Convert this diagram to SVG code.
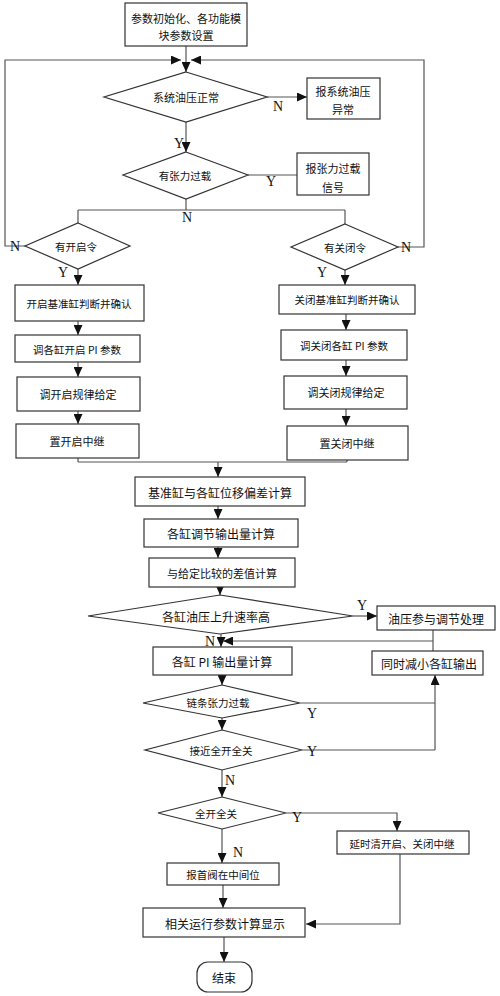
<svg xmlns="http://www.w3.org/2000/svg" width="500" height="996" viewBox="0 0 500 996">
<defs>
<marker id="ah" markerWidth="10" markerHeight="9" viewBox="0 0 10 9" refX="10" refY="4.5" orient="auto" markerUnits="userSpaceOnUse">
<path d="M0,0 L10,4.5 L0,9 Z" fill="#111"/>
</marker>
</defs>
<style>
rect,polygon{fill:#fff;stroke:#333;stroke-width:1.2}
.c{fill:none;stroke:#555;stroke-width:1.2}
.a{marker-end:url(#ah)}
text{font-family:"Noto Sans CJK SC","Noto Sans CJK JP",sans-serif;fill:#111;text-anchor:middle;dominant-baseline:central}
.s{font-size:10.5px}
.m{font-size:11px}
.l{font-size:12px}
.yn{font-family:"Liberation Serif",serif;font-size:14px;fill:#111}
</style>
<rect width="500" height="996" fill="#fff" style="stroke:none"/>
<g id="connectors">
<path class="c a" d="M186,46 V72"/>
<path class="c a" d="M25,246 H5 V60 H181"/>
<path class="c a" d="M398,247 H424 V60 H191"/>
<path class="c a" d="M267,97 H307"/>
<path class="c a" d="M186,122 V152"/>
<path class="c" d="M248,175 H297"/>
<path class="c" d="M186,199 V210 M78,210 H345 M78,210 V223 M345,210 V224"/>
<path class="c a" d="M78,269 V285"/>
<path class="c a" d="M78,321 V335"/>
<path class="c a" d="M78,362 V377"/>
<path class="c a" d="M78,411 V424"/>
<path class="c a" d="M345,270 V285"/>
<path class="c a" d="M346,314 V330"/>
<path class="c a" d="M346,360 V376"/>
<path class="c a" d="M346,409 V426"/>
<path class="c" d="M78,458 V462 M347,460 V462 M78,462 H347"/>
<path class="c a" d="M218,462 V477"/>
<path class="c a" d="M218,506 V519"/>
<path class="c a" d="M218,547 V558"/>
<path class="c a" d="M220,587 V595"/>
<path class="c a" d="M353,616 H377"/>
<path class="c a" d="M221,634 V647"/>
<path class="c" d="M433,630 V651"/>
<path class="c a" d="M433,641 H223"/>
<path class="c a" d="M222,675 V685"/>
<path class="c" d="M300,703 H435"/>
<path class="c a" d="M222,718 V730"/>
<path class="c" d="M302,750 H435"/>
<path class="c a" d="M435,750 V675"/>
<path class="c a" d="M222,770 V797"/>
<path class="c a" d="M286,813 H397 V831"/>
<path class="c a" d="M222,829 V863"/>
<path class="c a" d="M400,854 V924 H306"/>
<path class="c a" d="M223,885 V908"/>
<path class="c a" d="M224,937 V962"/>
<text class="yn" x="278" y="106">N</text>
<text class="yn" x="179" y="143">Y</text>
<text class="yn" x="271" y="181">Y</text>
<text class="yn" x="187" y="217">N</text>
<text class="yn" x="15" y="246">N</text>
<text class="yn" x="406" y="247">N</text>
<text class="yn" x="63" y="272">Y</text>
<text class="yn" x="322" y="272">Y</text>
<text class="yn" x="362" y="605">Y</text>
<text class="yn" x="210" y="641">N</text>
<text class="yn" x="312" y="713">Y</text>
<text class="yn" x="312" y="751">Y</text>
<text class="yn" x="230" y="780">N</text>
<text class="yn" x="297" y="817">Y</text>
<text class="yn" x="238" y="852">N</text>
</g>
<g id="init"><rect x="125" y="3" width="122" height="43"/><text class="m" x="186" y="18">参数初始化、各功能模</text><text class="m" x="186" y="35">块参数设置</text></g>
<g id="oil_ok"><polygon points="186,72 267,97 186,122 104,97"/><text class="m" x="186" y="97">系统油压正常</text></g>
<g id="oil_err"><rect x="307" y="78" width="73" height="41"/><text class="m" x="343" y="91">报系统油压</text><text class="m" x="343" y="109">异常</text></g>
<g id="tension"><polygon points="186,152 248,175 186,199 123,175"/><text class="s" x="185" y="175">有张力过载</text></g>
<g id="tension_sig"><rect x="297" y="153" width="72" height="42"/><text class="m" x="333" y="168">报张力过载</text><text class="m" x="333" y="187">信号</text></g>
<g id="open_cmd"><polygon points="78,223 130,246 78,269 25,246"/><text class="s" x="76" y="246">有开启令</text></g>
<g id="close_cmd"><polygon points="345,224 398,247 345,270 291,247"/><text class="s" x="345" y="247">有关闭令</text></g>
<g id="open1"><rect x="15" y="285" width="129" height="36"/><text class="s" x="79" y="303">开启基准缸判断并确认</text></g>
<g id="open2"><rect x="15" y="335" width="125" height="27"/><text class="s" x="77" y="349">调各缸开启 PI 参数</text></g>
<g id="open3"><rect x="17" y="377" width="123" height="34"/><text class="m" x="78" y="394">调开启规律给定</text></g>
<g id="open4"><rect x="16" y="424" width="123" height="34"/><text class="m" x="77" y="441">置开启中继</text></g>
<g id="close1"><rect x="279" y="285" width="136" height="29"/><text class="s" x="347" y="299">关闭基准缸判断并确认</text></g>
<g id="close2"><rect x="281" y="330" width="126" height="30"/><text class="s" x="344" y="345">调关闭各缸 PI 参数</text></g>
<g id="close3"><rect x="284" y="376" width="123" height="33"/><text class="m" x="346" y="392">调关闭规律给定</text></g>
<g id="close4"><rect x="287" y="426" width="121" height="34"/><text class="m" x="347" y="443">置关闭中继</text></g>
<g id="deviation"><rect x="135" y="477" width="170" height="29"/><text class="l" x="220" y="492">基准缸与各缸位移偏差计算</text></g>
<g id="adjust"><rect x="144" y="519" width="154" height="28"/><text class="l" x="221" y="533">各缸调节输出量计算</text></g>
<g id="diff"><rect x="149" y="558" width="146" height="29"/><text class="m" x="222" y="573">与给定比较的差值计算</text></g>
<g id="rate_high"><polygon points="220,595 353,616 220,634 88,616"/><text class="l" x="216" y="616">各缸油压上升速率高</text></g>
<g id="oil_proc"><rect x="377" y="606" width="118" height="24"/><text class="l" x="436" y="618">油压参与调节处理</text></g>
<g id="pi_out"><rect x="153" y="647" width="139" height="28"/><text class="l" x="222" y="661">各缸 PI 输出量计算</text></g>
<g id="reduce"><rect x="372" y="651" width="111" height="24"/><text class="l" x="429" y="663">同时减小各缸输出</text></g>
<g id="chain"><polygon points="222,685 300,703 222,718 143,703"/><text class="s" x="218" y="702">链条张力过载</text></g>
<g id="near_full"><polygon points="222,730 302,750 222,770 145,750"/><text class="s" x="221" y="750">接近全开全关</text></g>
<g id="full"><polygon points="222,797 286,813 222,829 158,813"/><text class="s" x="216" y="813">全开全关</text></g>
<g id="delay_clear"><rect x="337" y="831" width="132" height="23"/><text class="s" x="402" y="843">延时清开启、关闭中继</text></g>
<g id="mid_pos"><rect x="167" y="863" width="112" height="22"/><text class="s" x="223" y="874">报首阀在中间位</text></g>
<g id="display"><rect x="143" y="908" width="162" height="29"/><text class="l" x="225" y="923">相关运行参数计算显示</text></g>
<g id="end"><rect x="197" y="962" width="55" height="30" rx="11"/><text class="l" x="224" y="977">结束</text></g>
</svg>
